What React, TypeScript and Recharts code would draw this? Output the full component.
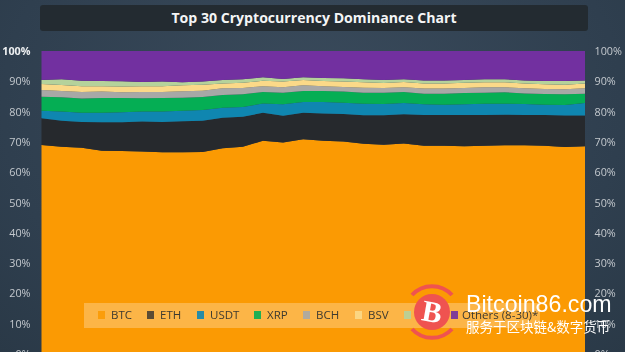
import React from "react";
import { AreaChart, Area, XAxis, YAxis } from "recharts";

const btc = [69,68.4,68.1,67.1,67,66.8,66.6,66.6,66.7,67.9,68.4,70.4,69.8,70.9,70.4,70.1,69.4,69.1,69.5,68.7,68.7,68.6,68.7,68.9,68.9,68.7,68.3,68.6];
const eth = [8.8,8.6,8.5,9.4,9.5,9.9,10,10.2,10.3,10.1,9.9,9.2,8.8,8.7,9,9.1,9.4,9.7,9.6,10.2,10.2,10.3,10.2,10.1,10,10.2,10.4,10.1];
const usdt = [2.5,3,3,3.1,3.3,3.3,3.4,3.5,3.5,3.3,3.2,3.1,3.8,3.6,3.8,3.7,3.8,3.7,3.7,3.5,3.4,3.5,3.7,3.6,3.6,3.4,3.5,4.1];
const xrp = [4.6,4.7,4.7,4.9,4.7,4.4,4.5,4.3,4.3,4.2,4.2,3.8,3.8,3.6,3.6,3.7,3.6,3.7,3.7,3.5,3.6,3.7,3.6,3.8,3.5,3.5,3.5,3.1];
const bch = [2.2,2.1,2.2,2.1,1.9,2.1,2,2.1,2.1,2.2,2.1,1.9,1.8,1.9,1.6,1.5,1.7,1.6,1.5,1.7,1.7,1.7,1.8,1.6,1.7,1.7,1.7,1.8];
const bsv = [2,2,1.9,1.8,1.9,1.9,1.9,2,2,1.6,1.7,1.8,1.9,1.7,1.7,1.8,1.8,1.6,1.8,1.7,1.7,1.7,1.7,1.7,1.6,1.5,1.5,1.6];
const ltc = [1.3,1.9,1.8,1.7,1.7,1.4,1.5,1,1,1.1,1.2,1.1,0.9,0.9,1,1.1,1,1,0.9,1,1,0.9,1,1,1,1.1,1.2,1];
const others = [9.6,9.3,9.8,9.9,10,10.2,10.1,10.3,10.1,9.6,9.3,8.7,9.2,8.7,8.9,9,9.3,9.6,9.3,9.7,9.7,9.6,9.3,9.3,9.7,9.9,9.9,9.7];

const seriesNames = ["BTC", "ETH", "USDT", "XRP", "BCH", "BSV", "LTC", "Others (8-30)*"];
const seriesValues = [btc, eth, usdt, xrp, bch, bsv, ltc, others];
const seriesColors = ["#fb9a03", "#26292d", "#0f86b0", "#05ae54", "#a8a8a6", "#fbd988", "#b5d29b", "#7230a0"];
const yTicks = [0, 10, 20, 30, 40, 50, 60, 70, 80, 90, 100];

const data = btc.map((_, i) => {
  const row: Record<string, number> = { i };
  seriesNames.forEach((n, s) => { row[n] = seriesValues[s][i]; });
  return row;
});

const legendX = [98, 147, 197, 254, 303, 355, 404, 451];
const font = "'Open Sans', sans-serif";

const tick = (p: any) => {
  const top = p.payload.value === 100;
  return (
    <g fontFamily={font} fontSize={10.8}>
      <text x={30.5} y={p.y + 4} textAnchor="end" fontWeight={top ? 700 : 400} fill={top ? "#eef0f2" : "#c4c9ce"}>
        {p.payload.value}%
      </text>
      <text x={594.5} y={p.y + 4} textAnchor="start" fill="#c4c9ce">
        {p.payload.value}%
      </text>
    </g>
  );
};

export default function App() {
  return (
    <div style={{ position: "fixed", left: 0, top: 0, width: 625, height: 352, overflow: "hidden",
      background: "radial-gradient(ellipse at 50% 30%, #3a4b5c 0%, #2f3f4f 70%, #2a3947 100%)" }}>
      <div style={{ position: "absolute", left: 40, top: 5, width: 548, height: 26, background: "#232b31",
        borderRadius: 3, color: "#f4f5f6", fontFamily: font, fontWeight: 700, fontSize: 14.1,
        lineHeight: "26px", textAlign: "center" }}>
        Top 30 Cryptocurrency Dominance Chart
      </div>
      <div style={{ position: "absolute", left: 0, top: 0 }}>
        <AreaChart width={625} height={362} data={data}
          margin={{ top: 51, right: 40, bottom: 8, left: 0 }}>
          <XAxis dataKey="i" hide />
          <YAxis orientation="left" width={41.5} domain={[0, 100]} ticks={yTicks} axisLine={false} tickLine={false} tick={tick} interval={0} />
          {seriesNames.map((n, s) => (
            <Area key={n} dataKey={n} stackId="a" type="linear" stroke="none"
              fill={seriesColors[s]} fillOpacity={1} isAnimationActive={false} dot={false} activeDot={false} />
          ))}
        </AreaChart>
      </div>
      <div style={{ position: "absolute", left: 84, top: 303, width: 456, height: 25, background: "rgba(255,255,255,0.27)" }} />
      {seriesNames.map((n, s) => (
        <React.Fragment key={n}>
          <div style={{ position: "absolute", left: legendX[s], top: 311, width: 7, height: 8, background: seriesColors[s], opacity: s === 1 ? 0.75 : 0.9 }} />
          <div style={{ position: "absolute", left: legendX[s] + (s === 7 ? 11 : 13), top: 306, lineHeight: "18px", fontFamily: font, fontSize: 11.5, color: "#3d3a30", whiteSpace: "nowrap" }}>{n}</div>
        </React.Fragment>
      ))}
      <svg width={625} height={352} style={{ position: "absolute", left: 0, top: 0 }}>
        <path d="M412 295 A27 27 0 0 1 452 295" fill="none" stroke="#ef5350" strokeWidth={4} />
        <path d="M412 329 A27 27 0 0 0 452 329" fill="none" stroke="#ef5350" strokeWidth={4} />
        <circle cx={432} cy={312} r={18} fill="#ef5350" />
        <text x={432} y={322} textAnchor="middle" fontFamily="'Liberation Serif', serif" fontWeight={700} fontSize={30} fill="#fff" transform="rotate(10 432 312)">B</text>
        <text x={466} y={312} fontFamily="'Liberation Sans', sans-serif" fontSize={23.2} fill="#fff">Bitcoin86.com</text>
        <text x={466} y={332} fontFamily="'Noto Sans CJK SC', sans-serif" fontSize={13.5} fill="#fff">服务于区块链&amp;数字货币</text>
      </svg>
    </div>
  );
}
